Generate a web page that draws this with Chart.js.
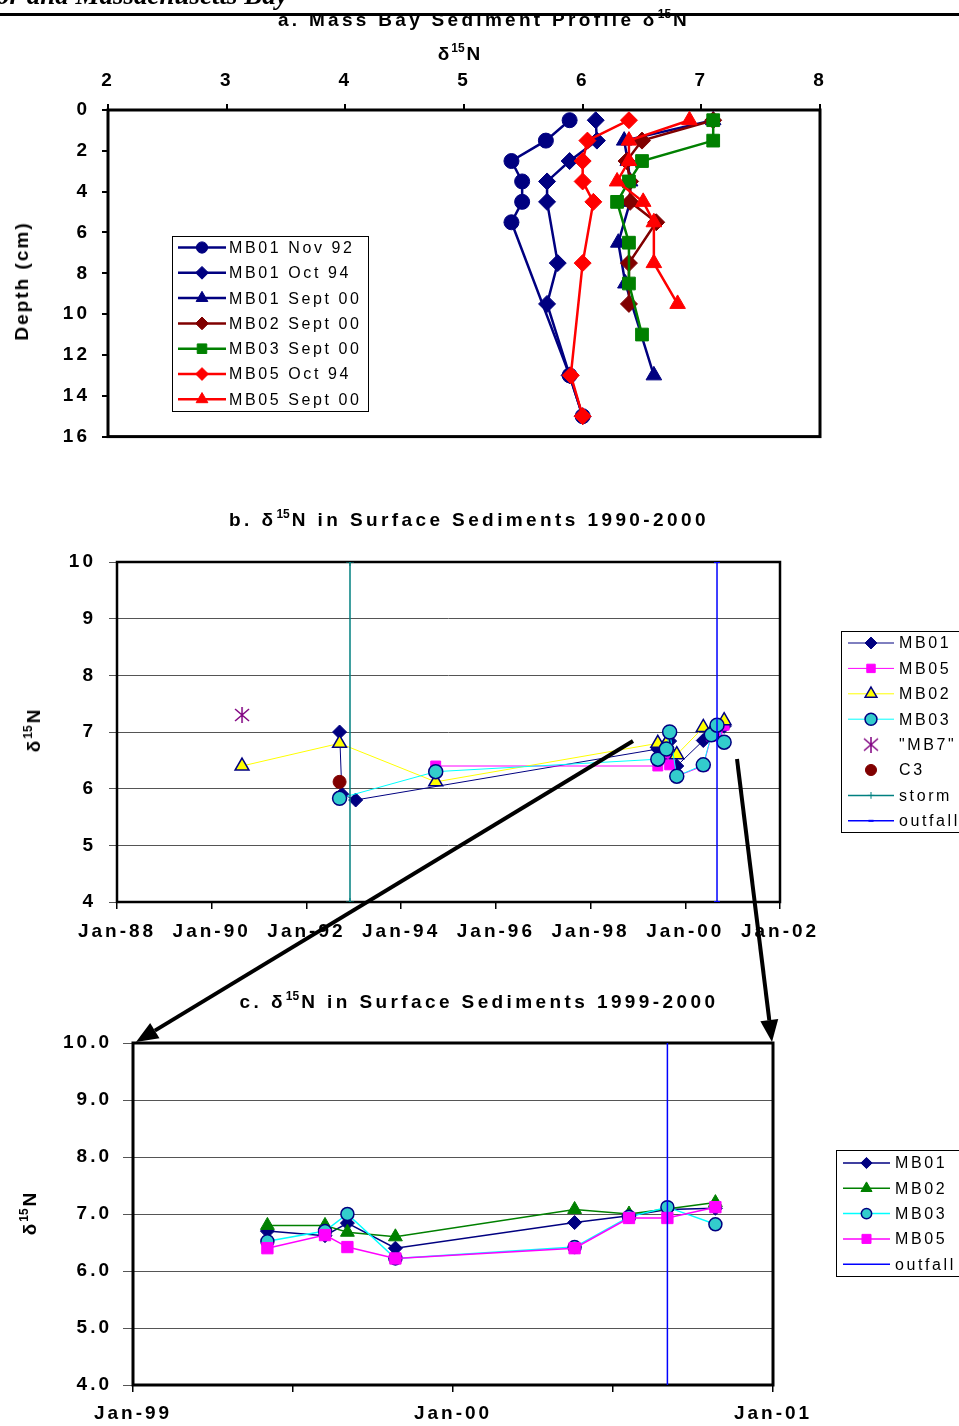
<!DOCTYPE html>
<html>
<head>
<meta charset="utf-8">
<script src="https://cdn.jsdelivr.net/npm/chart.js@4.4.1/dist/chart.umd.min.js"></script>
<style>
body { margin: 0; background: #fff; }
#page { position: relative; width: 959px; height: 1426px; overflow: hidden; font-family: "Liberation Sans", Arial, sans-serif; }
canvas { position: absolute; left: 0; }
.t { position: absolute; font-weight: bold; white-space: nowrap; transform: translate(-50%, -50%); letter-spacing: 3.3px; font-size: 19px; color: #000; }
.t sup { font-size: 12px; vertical-align: 0; position: relative; top: -8px; letter-spacing: 0; margin-right: 2px; }
.rot { transform: translate(-50%, -50%) rotate(-90deg); }
</style>
</head>
<body>
<div id="page">
  <canvas id="chartA" width="959" height="460" style="top:0"></canvas>
  <canvas id="chartB" width="959" height="490" style="top:470px"></canvas>
  <canvas id="chartC" width="959" height="466" style="top:960px"></canvas>
  <div class="t" style="left:484px;top:20px;letter-spacing:3.3px">a. Mass Bay Sediment Profile &delta;<sup>15</sup>N</div>
  <div class="t" style="left:460px;top:54px;letter-spacing:2px">&delta;<sup>15</sup>N</div>
  <div class="t rot" style="left:22px;top:281px;letter-spacing:2px">Depth (cm)</div>
  <div class="t" style="left:469px;top:520px;letter-spacing:3.4px">b. &delta;<sup>15</sup>N in Surface Sediments 1990-2000</div>
  <div class="t rot" style="left:34px;top:730px;letter-spacing:2px">&delta;<sup>15</sup>N</div>
  <div class="t" style="left:479px;top:1002px;letter-spacing:3.4px">c. &delta;<sup>15</sup>N in Surface Sediments 1999-2000</div>
  <div class="t rot" style="left:30px;top:1213px;letter-spacing:2px">&delta;<sup>15</sup>N</div>
  <canvas id="overlay" width="959" height="1426" style="top:0;pointer-events:none"></canvas>
</div>
<script>
// a. sediment profiles: depth (cm) and d15N per core
const nov92Depth = [0.5, 1.5, 2.5, 3.5, 4.5, 5.5, 13, 15];
const mb01Nov92 = [5.89, 5.69, 5.40, 5.49, 5.49, 5.40, 5.89, 6.0];
const oct94Depth = [0.5, 1.5, 2.5, 3.5, 4.5, 7.5, 9.5, 13, 15];
const mb01Oct94 = [6.11, 6.12, 5.89, 5.70, 5.70, 5.79, 5.70, 5.89, 6.0];
const mb01Sep00Depth = [0.5, 1.5, 2.5, 3.5, 4.5, 6.5, 8.5, 13];
const mb01Sep00 = [7.1, 6.35, 6.38, 6.4, 6.4, 6.3, 6.36, 6.6];
const mb02Sep00Depth = [0.5, 1.5, 2.5, 3.5, 4.5, 5.5, 7.5, 9.5];
const mb02Sep00 = [7.1, 6.5, 6.37, 6.4, 6.4, 6.62, 6.39, 6.39];
const mb03Sep00Depth = [0.5, 1.5, 2.5, 3.5, 4.5, 6.5, 8.5, 11];
const mb03Sep00 = [7.1, 7.1, 6.5, 6.39, 6.29, 6.39, 6.39, 6.5];
const mb05Oct94Depth = [0.5, 1.5, 2.5, 3.5, 4.5, 7.5, 13, 15];
const mb05Oct94 = [6.39, 6.04, 6.0, 6.0, 6.09, 6.0, 5.9, 6.0];
const mb05Sep00Depth = [0.5, 1.5, 2.5, 3.5, 4.5, 5.5, 7.5, 9.5];
const mb05Sep00 = [6.9, 6.39, 6.39, 6.29, 6.51, 6.6, 6.6, 6.8];

// b./c. surface sediments: sampling date (decimal year) and d15N
const mb01Dates = [1992.70, 1992.75, 1993.04, 1999.42, 1999.60, 1999.67, 1999.82, 2000.38, 2000.55, 2000.67, 2000.82];
const mb01N = [7.0, 5.9, 5.8, 6.7, 6.62, 6.84, 6.4, 6.85, 6.97, 7.08, 7.1];
const mb05Dates = [1994.73, 1999.42, 1999.60, 1999.67, 1999.82, 2000.38, 2000.55, 2000.67, 2000.82];
const mb05N = [6.4, 6.4, 6.63, 6.42, 6.22, 6.4, 6.93, 6.93, 7.12];
const mb02Dates = [1990.64, 1992.70, 1994.73, 1999.42, 1999.60, 1999.67, 1999.82, 2000.38, 2000.55, 2000.82];
const mb02N = [6.4, 6.8, 6.12, 6.8, 6.8, 6.68, 6.6, 7.08, 7.0, 7.2];
const mb03Dates = [1992.70, 1994.73, 1999.42, 1999.60, 1999.67, 1999.82, 2000.38, 2000.55, 2000.67, 2000.82];
const mb03N = [5.83, 6.3, 6.52, 6.7, 7.0, 6.22, 6.42, 6.95, 7.12, 6.82];
const mb7Dates = [1990.64];
const mb7N = [7.3];
const c3Dates = [1992.70];
const c3N = [6.12];
const stormDates = [1992.92, 1992.92];
const outfallDates = [2000.67, 2000.67];
const markerRange = [4, 10];

const bTickLabels = ['Jan-88', 'Jan-90', 'Jan-92', 'Jan-94', 'Jan-96', 'Jan-98', 'Jan-00', 'Jan-02'];
const cTickLabels = ['Jan-99', '', 'Jan-00', '', 'Jan-01'];

const pts = (xs, ys) => xs.map((x, i) => ({x: x, y: ys[i]}));
const fromC = (xs, ys) => pts(xs, ys).filter(p => p.x >= 1999);

const NAVY = '#000080', MAROON = '#800000', GREEN = '#008000', RED = '#FF0000';
const MAGENTA = '#FF00FF', YELLOW = '#FFFF00', CYAN = '#00FFFF', TEAL_FILL = '#33CCCC';

// asterisk marker like the excel one
const star = document.createElement('canvas');
star.width = 18; star.height = 16;
(function () {
  const g = star.getContext('2d');
  g.strokeStyle = '#800080'; g.lineWidth = 1.5;
  g.beginPath();
  g.moveTo(2, 2); g.lineTo(16, 14);
  g.moveTo(16, 2); g.lineTo(2, 14);
  g.moveTo(9, 0); g.lineTo(9, 16);
  g.stroke();
})();

function series(label, data, color, o) {
  return Object.assign({
    label: label, data: data, showLine: true,
    borderColor: color, backgroundColor: color, borderWidth: 1,
    pointStyle: 'circle', pointRadius: 6, pointBackgroundColor: color,
    pointBorderColor: color, pointBorderWidth: 1
  }, o || {});
}

function drawMarker(ctx, ds, x, y, k) {
  const r = (ds.pointRadius || 0) * k;
  if (!r) return;
  ctx.save();
  ctx.fillStyle = ds.pointBackgroundColor;
  ctx.strokeStyle = ds.pointBorderColor;
  ctx.lineWidth = ds.pointBorderWidth || 1;
  if (Chart.helpers && Chart.helpers.drawPoint) {
    Chart.helpers.drawPoint(ctx, {pointStyle: ds.pointStyle, radius: r, rotation: 0, borderWidth: ds.pointBorderWidth || 1}, x, y);
  } else {
    ctx.beginPath(); ctx.arc(x, y, r, 0, Math.PI * 2); ctx.fill(); ctx.stroke();
  }
  ctx.restore();
}

const spacingPlugin = {
  id: 'spacing',
  beforeLayout(chart) { chart.ctx.letterSpacing = '3px'; },
  beforeDraw(chart) { chart.ctx.letterSpacing = '3px'; }
};

const framePlugin = {
  id: 'frame',
  beforeDatasetsDraw(chart, args, o) {
    const a = chart.chartArea, ctx = chart.ctx;
    ctx.save();
    ctx.strokeStyle = '#000';
    ctx.lineWidth = o.width || 2;
    ctx.strokeRect(a.left, a.top, a.right - a.left, a.bottom - a.top);
    ctx.restore();
  }
};

const boxLegend = {
  id: 'boxLegend',
  afterDraw(chart, args, o) {
    const ctx = chart.ctx;
    ctx.save();
    ctx.letterSpacing = '2.6px';
    ctx.fillStyle = '#fff';
    ctx.fillRect(o.x, o.y, o.w, o.h);
    ctx.strokeStyle = '#000';
    ctx.lineWidth = 1;
    ctx.strokeRect(o.x + 0.5, o.y + 0.5, o.w, o.h);
    ctx.font = '16px "Liberation Sans", Arial, sans-serif';
    ctx.textBaseline = 'middle';
    chart.data.datasets.forEach((ds, i) => {
      const y = o.y0 + i * o.step;
      if (ds.showLine) {
        ctx.strokeStyle = ds.borderColor;
        ctx.lineWidth = ds.borderWidth;
        ctx.beginPath(); ctx.moveTo(o.lx0, y); ctx.lineTo(o.lx1, y); ctx.stroke();
      }
      drawMarker(ctx, ds, (o.lx0 + o.lx1) / 2, y, o.k);
      ctx.fillStyle = '#000';
      ctx.fillText(ds.label, o.tx, y + 1);
    });
    ctx.restore();
  }
};

const tickFont = {family: '"Liberation Sans", Arial, sans-serif', size: 19, weight: 'bold'};

function stack(datasets) {
  datasets.forEach((d, i) => { d.order = datasets.length - i; });
  return datasets;
}

// ---------- a. Mass Bay sediment profile ----------
const aStyle = (style, r) => ({borderWidth: 2.5, pointStyle: style, pointRadius: r});
new Chart(document.getElementById('chartA'), {
  type: 'scatter',
  data: {
    datasets: stack([
      series('MB01 Nov 92', pts(mb01Nov92, nov92Depth), NAVY, aStyle('circle', 7.5)),
      series('MB01 Oct 94', pts(mb01Oct94, oct94Depth), NAVY, aStyle('rectRot', 8.5)),
      series('MB01 Sept 00', pts(mb01Sep00, mb01Sep00Depth), NAVY, aStyle('triangle', 9)),
      series('MB02 Sept 00', pts(mb02Sep00, mb02Sep00Depth), MAROON, aStyle('rectRot', 8.5)),
      series('MB03 Sept 00', pts(mb03Sep00, mb03Sep00Depth), GREEN, aStyle('rect', 9)),
      series('MB05 Oct 94', pts(mb05Oct94, mb05Oct94Depth), RED, aStyle('rectRot', 8.5)),
      series('MB05 Sept 00', pts(mb05Sep00, mb05Sep00Depth), RED, aStyle('triangle', 9))
    ])
  },
  options: {
    responsive: false, animation: false, events: [],
    layout: {padding: {left: 28, top: 60, right: 139, bottom: 12}},
    scales: {
      x: {
        type: 'linear', position: 'top', min: 2, max: 8,
        afterFit: s => { s.height = 50; },
        ticks: {stepSize: 1, font: tickFont, color: '#000', padding: 12, maxRotation: 0},
        grid: {drawOnChartArea: false, tickLength: 6, color: '#000', lineWidth: 2},
        border: {display: false}
      },
      y: {
        type: 'linear', reverse: true, min: 0, max: 16,
        afterFit: s => { s.width = 80; },
        ticks: {stepSize: 2, font: tickFont, color: '#000', padding: 12},
        grid: {drawOnChartArea: false, tickLength: 6, color: '#000', lineWidth: 2},
        border: {display: false}
      }
    },
    plugins: {
      legend: {display: false}, tooltip: {enabled: false},
      frame: {width: 3},
      boxLegend: {x: 172, y: 236, w: 196, h: 175, y0: 247.5, step: 25.3, lx0: 178, lx1: 226, tx: 229, k: 0.75}
    }
  },
  plugins: [spacingPlugin, framePlugin, boxLegend]
});

// ---------- b. surface sediments 1990-2000 ----------
new Chart(document.getElementById('chartB'), {
  type: 'scatter',
  data: {
    datasets: stack([
      series('MB01', pts(mb01Dates, mb01N), NAVY, {pointStyle: 'rectRot', pointRadius: 7}),
      series('MB05', pts(mb05Dates, mb05N), MAGENTA, {pointStyle: 'rect', pointRadius: 7}),
      series('MB02', pts(mb02Dates, mb02N), YELLOW, {pointStyle: 'triangle', pointRadius: 8, pointBorderColor: NAVY, pointBorderWidth: 1.5}),
      series('MB03', pts(mb03Dates, mb03N), CYAN, {pointStyle: 'circle', pointRadius: 7, pointBackgroundColor: TEAL_FILL, pointBorderColor: NAVY, pointBorderWidth: 1.5}),
      series('"MB7"', pts(mb7Dates, mb7N), '#800080', {showLine: false, pointStyle: star, pointRadius: 7}),
      series('C3', pts(c3Dates, c3N), MAROON, {showLine: false, pointStyle: 'circle', pointRadius: 6.5}),
      series('storm', pts(stormDates, markerRange), '#008080', {pointStyle: 'cross', pointRadius: 4, borderWidth: 1.5}),
      series('outfall', pts(outfallDates, markerRange), '#0000FF', {pointStyle: 'line', pointRadius: 3, pointBorderWidth: 2, borderWidth: 1.5})
    ])
  },
  options: {
    responsive: false, animation: false, events: [],
    layout: {padding: {left: 37, top: 92, right: 179, bottom: 18}},
    scales: {
      x: {
        type: 'linear', min: 1988, max: 2002,
        afterFit: s => { s.height = 40; },
        ticks: {stepSize: 2, font: tickFont, color: '#000', padding: 11, maxRotation: 0, autoSkip: false,
          callback: (v, i) => bTickLabels[i]},
        grid: {drawOnChartArea: false, tickLength: 7, color: '#000', lineWidth: 1.5},
        border: {display: false}
      },
      y: {
        type: 'linear', min: 4, max: 10,
        afterFit: s => { s.width = 80; },
        ticks: {stepSize: 1, font: tickFont, color: '#000', padding: 13},
        grid: {tickLength: 8, color: '#555', lineWidth: 1},
        border: {display: false}
      }
    },
    plugins: {
      legend: {display: false}, tooltip: {enabled: false},
      frame: {width: 2.5},
      boxLegend: {x: 841, y: 161, w: 140, h: 201, y0: 173, step: 25.4, lx0: 848, lx1: 894, tx: 899, k: 0.85}
    }
  },
  plugins: [spacingPlugin, framePlugin, boxLegend]
});

// ---------- c. surface sediments 1999-2000 ----------
const cLine = {borderWidth: 1.5};
new Chart(document.getElementById('chartC'), {
  type: 'scatter',
  data: {
    datasets: stack([
      series('MB01', fromC(mb01Dates, mb01N), NAVY, Object.assign({pointStyle: 'rectRot', pointRadius: 7}, cLine)),
      series('MB02', fromC(mb02Dates, mb02N), GREEN, Object.assign({pointStyle: 'triangle', pointRadius: 8}, cLine)),
      series('MB03', fromC(mb03Dates, mb03N), CYAN, Object.assign({pointStyle: 'circle', pointRadius: 6.5, pointBackgroundColor: TEAL_FILL, pointBorderColor: NAVY, pointBorderWidth: 1.5}, cLine)),
      series('MB05', fromC(mb05Dates, mb05N), MAGENTA, Object.assign({pointStyle: 'rect', pointRadius: 8}, cLine)),
      series('outfall', pts(outfallDates, markerRange), '#0000FF', Object.assign({pointRadius: 0}, cLine))
    ])
  },
  options: {
    responsive: false, animation: false, events: [],
    layout: {padding: {left: 53, top: 83, right: 186, bottom: 5}},
    scales: {
      x: {
        type: 'linear', min: 1999, max: 2001,
        afterFit: s => { s.height = 36; },
        ticks: {stepSize: 0.5, font: tickFont, color: '#000', padding: 10, maxRotation: 0, autoSkip: false,
          callback: (v, i) => cTickLabels[i]},
        grid: {drawOnChartArea: false, tickLength: 7, color: '#000', lineWidth: 1.5},
        border: {display: false}
      },
      y: {
        type: 'linear', min: 4, max: 10,
        afterFit: s => { s.width = 80; },
        ticks: {stepSize: 1, font: tickFont, color: '#000', padding: 11, callback: v => v.toFixed(1)},
        grid: {tickLength: 10, color: '#555', lineWidth: 1},
        border: {display: false}
      }
    },
    plugins: {
      legend: {display: false}, tooltip: {enabled: false},
      frame: {width: 3},
      boxLegend: {x: 836, y: 190, w: 140, h: 126, y0: 203, step: 25.3, lx0: 843, lx1: 890, tx: 895, k: 0.8}
    }
  },
  plugins: [spacingPlugin, framePlugin, boxLegend]
});

// ---------- page header rule and zoom arrows ----------
const ov = document.getElementById('overlay').getContext('2d');
ov.font = 'italic bold 27px "Liberation Serif", serif';
ov.fillStyle = '#000';
ov.fillText('or and Massachusetts Bay', -4, 4);
ov.fillRect(0, 13, 959, 3);

function arrow(x0, y0, x1, y1) {
  const ang = Math.atan2(y1 - y0, x1 - x0);
  const L = 22, W = 9;
  const bx = x1 - L * Math.cos(ang), by = y1 - L * Math.sin(ang);
  ov.save();
  ov.strokeStyle = '#000'; ov.fillStyle = '#000'; ov.lineWidth = 4;
  ov.beginPath(); ov.moveTo(x0, y0); ov.lineTo(bx, by); ov.stroke();
  ov.beginPath();
  ov.moveTo(x1, y1);
  ov.lineTo(bx + W * Math.sin(ang), by - W * Math.cos(ang));
  ov.lineTo(bx - W * Math.sin(ang), by + W * Math.cos(ang));
  ov.closePath(); ov.fill();
  ov.restore();
}
arrow(633, 741, 136, 1042);
arrow(737, 759, 772, 1042);
</script>
</body>
</html>
